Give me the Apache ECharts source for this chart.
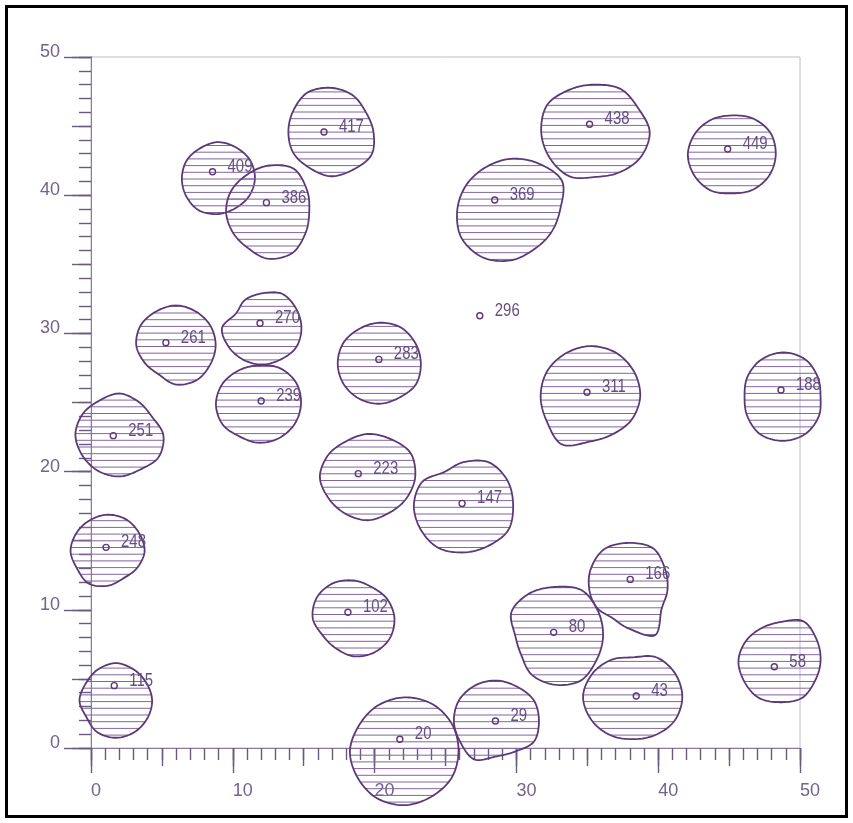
<!DOCTYPE html>
<html><head><meta charset="utf-8">
<script src="https://cdn.jsdelivr.net/npm/echarts@6/dist/echarts.min.js"></script>
<style>html,body{margin:0;padding:0;background:#fff}#c{width:853px;height:823px}</style>
</head><body><div id="c"></div>
<script>
// ---- point data ----
const pointLabels = ['409','386','417','261','270','239','283','251','248','115','223','102','20',
                     '438','449','369','296','311','188','147','166','80','43','29','58'];
const pointX = [8.57,12.37,16.43,5.28,11.92,12.0,20.3,1.57,1.06,1.64,18.85,18.12,21.78,
                35.16,44.9,28.47,27.42,34.98,48.66,26.17,38.03,32.63,38.45,28.52,48.19];
const pointY = [41.70,39.46,44.57,29.33,30.73,25.11,28.12,22.6,14.52,4.51,19.85,9.82,0.63,
                45.13,43.34,39.65,31.28,25.74,25.9,17.7,12.2,8.37,3.76,1.95,5.88];

// ---- blob (hatched region) data: centre + radii at 12 angles (0°=east, counter-clockwise, 30° steps) ----
const blobCenterX = [8.96,12.46,16.92,35.6,45.19,29.58,5.99,12.04,11.81,20.33,35.21,48.77,
                     2.0,1.18,19.5,26.27,37.9,18.52,32.68,48.59,1.75,38.2,28.63,22.09];
const blobCenterY = [41.24,38.77,44.57,44.57,42.95,38.93,29.16,30.39,24.89,27.84,25.43,25.42,
                     22.65,14.24,19.6,17.58,11.41,9.38,8.08,6.31,3.44,3.71,1.95,-0.24];
const blobRadii = [
  [2.6,2.6,2.55,2.6,2.5,2.55,2.55,2.6,2.7,2.6,2.5,2.55],        // 409
  [2.93,3.2,3.64,3.36,3.07,3.0,2.93,2.86,2.93,3.36,3.43,3.07],  // 386
  [3.0,2.85,3.07,3.2,3.3,3.07,3.0,3.05,3.0,3.2,3.14,3.3],       // 417
  [3.8,3.45,3.57,3.43,3.57,3.95,3.85,3.75,3.7,3.25,3.36,3.65],  // 438
  [3.1,3.14,3.0,2.82,2.9,3.0,3.1,3.05,3.0,2.82,2.95,3.05],      // 449
  [3.5,4.2,3.9,3.7,3.55,3.6,3.75,4.0,3.95,3.65,3.3,3.3],        // 369
  [2.8,2.8,2.8,2.86,2.8,2.86,2.8,2.55,2.45,2.86,2.93,2.8],      // 261
  [2.8,2.8,2.86,2.5,2.35,2.1,2.8,2.7,2.64,2.64,2.64,2.8],       // 270
  [3.0,3.07,3.0,2.8,2.8,2.93,3.0,2.93,2.7,2.8,2.86,2.93],       // 239
  [2.93,2.93,3.0,2.93,2.86,2.93,2.93,2.93,2.93,2.93,2.86,3.0],  // 283
  [3.52,3.57,3.65,3.65,3.57,3.55,3.5,3.55,4.0,3.25,3.15,3.36],  // 311
  [2.68,2.86,3.14,3.2,3.07,2.86,2.68,2.86,3.14,3.2,3.14,2.93],  // 188
  [3.1,2.65,2.75,3.0,2.86,3.0,3.1,3.0,3.0,3.0,2.9,3.2],         // 251
  [2.6,2.57,2.64,2.64,2.57,2.57,2.62,2.5,2.7,2.5,2.25,2.4],     // 248
  [3.36,3.5,3.2,3.12,3.0,3.2,3.36,3.14,3.07,3.12,3.0,3.14],     // 223
  [3.5,3.57,3.57,3.1,2.75,3.36,3.5,3.5,3.57,3.43,3.43,3.64],    // 147
  [2.75,3.0,3.5,3.43,3.43,3.07,2.75,2.55,2.3,2.75,3.75,2.7],    // 166
  [2.88,2.75,2.6,2.74,2.93,3.0,2.88,2.5,2.5,2.74,2.86,2.93],    // 102
  [3.43,3.57,3.85,3.57,3.57,3.5,2.75,2.7,3.2,3.5,3.7,3.43],     // 80
  [2.86,3.0,3.3,2.8,2.7,2.8,2.93,2.93,3.07,3.0,3.1,2.86],       // 58
  [2.56,2.5,2.57,2.7,2.57,2.45,2.56,2.4,2.64,2.7,2.64,2.57],    // 115
  [3.5,3.43,3.3,2.85,3.07,3.3,3.5,3.36,3.2,3.07,3.2,3.43],      // 43
  [2.96,3.0,2.86,2.93,3.0,3.07,3.04,3.0,3.2,2.55,2.55,3.0],     // 29
  [3.83,3.9,3.95,3.9,3.8,3.7,3.83,3.8,3.9,3.9,3.8,3.85]         // 20
];

// ---- styles ----
const OUTLINE = '#5a3a76';
const HATCH = '#8365a0';
const TEXT = '#654f80';
const AXIS_TEXT = '#72648a';
const TICK = '#6a5a80';
const HATCH_STEP = 6.7;

function renderBlob(params, api) {
  const i = params.dataIndex;
  const cx = api.value(0), cy = api.value(1);
  const r = blobRadii[i];
  const n = r.length;
  const ctrl = [];
  for (let k = 0; k < n; k++) {
    const a = 2 * Math.PI * k / n;
    ctrl.push(api.coord([cx + r[k] * Math.cos(a), cy + r[k] * Math.sin(a)]));
  }
  const pts = [];
  const seg = 12;
  for (let k = 0; k < n; k++) {
    const p0 = ctrl[(k - 1 + n) % n], p1 = ctrl[k], p2 = ctrl[(k + 1) % n], p3 = ctrl[(k + 2) % n];
    for (let s = 0; s < seg; s++) {
      const t = s / seg, t2 = t * t, t3 = t2 * t;
      const f = (a0, a1, a2, a3) => 0.5 * (2 * a1 + (-a0 + a2) * t + (2 * a0 - 5 * a1 + 4 * a2 - a3) * t2 + (-a0 + 3 * a1 - 3 * a2 + a3) * t3);
      pts.push([f(p0[0], p1[0], p2[0], p3[0]), f(p0[1], p1[1], p2[1], p3[1])]);
    }
  }
  let ymin = Infinity, ymax = -Infinity;
  pts.forEach(p => { ymin = Math.min(ymin, p[1]); ymax = Math.max(ymax, p[1]); });
  const base = api.coord([0, 0])[1] + 0.5;
  const children = [];
  let k0 = Math.ceil((ymin - base) / HATCH_STEP);
  for (let k = k0; base + k * HATCH_STEP < ymax; k++) {
    const y = base + k * HATCH_STEP;
    const xs = [];
    for (let j = 0; j < pts.length; j++) {
      const a = pts[j], b = pts[(j + 1) % pts.length];
      if ((a[1] <= y && b[1] > y) || (b[1] <= y && a[1] > y)) {
        xs.push(a[0] + (y - a[1]) * (b[0] - a[0]) / (b[1] - a[1]));
      }
    }
    xs.sort((p, q) => p - q);
    for (let j = 0; j + 1 < xs.length; j += 2) {
      children.push({ type: 'line', shape: { x1: xs[j], y1: y, x2: xs[j + 1], y2: y },
        style: { stroke: HATCH, lineWidth: 1 } });
    }
  }
  children.push({ type: 'polygon', shape: { points: pts },
    style: { fill: 'none', stroke: OUTLINE, lineWidth: 1.8 } });
  return { type: 'group', children };
}

function renderPoint(params, api) {
  const p = api.coord([api.value(0), api.value(1)]);
  return {
    type: 'group',
    children: [
      { type: 'circle', shape: { cx: p[0], cy: p[1], r: 3 },
        style: { fill: 'none', stroke: OUTLINE, lineWidth: 1.4 } },
      { type: 'text', x: p[0] + 15, y: p[1] - 5, scaleX: 0.83, scaleY: 1,
        style: { text: pointLabels[params.dataIndex], fill: TEXT,
          font: '18px "Liberation Sans", Arial, sans-serif', align: 'left', verticalAlign: 'middle' } }
    ]
  };
}

const baseAxis = {
  type: 'value', min: 0, max: 50, offset: 0,
  axisLine: { show: true, onZero: false, lineStyle: { color: '#8a7b9a', width: 1 } },
  splitLine: { show: false },
  axisLabel: { show: false }
};
const tickStyle = { color: TICK, width: 1.4 };
const xb = Object.assign({}, baseAxis, { position: 'bottom' });
const yb = Object.assign({}, baseAxis, { position: 'left' });

const chart = echarts.init(document.getElementById('c'), null, { renderer: 'canvas' });
chart.setOption({
  backgroundColor: '#ffffff',
  animation: false,
  grid: { left: 91, right: 53, top: 57, bottom: 75, show: true, borderColor: '#c4b8d0', borderWidth: 1 },
  xAxis: [
    Object.assign({}, xb, { interval: 1, axisTick: { length: 12, lineStyle: tickStyle } }),
    Object.assign({}, xb, { interval: 5, axisTick: { length: 18, lineStyle: tickStyle } }),
    Object.assign({}, xb, { interval: 10, axisTick: { length: 25, lineStyle: tickStyle },
      axisLabel: { show: true, margin: 34, align: 'left', fontSize: 18, color: AXIS_TEXT,
        fontFamily: '"Liberation Sans", Arial, sans-serif' } })
  ],
  yAxis: [
    Object.assign({}, yb, { interval: 1, axisTick: { length: 12, lineStyle: tickStyle } }),
    Object.assign({}, yb, { interval: 5, axisTick: { length: 19, lineStyle: tickStyle } }),
    Object.assign({}, yb, { interval: 10, axisTick: { length: 27, lineStyle: tickStyle },
      axisLabel: { show: true, margin: 31, fontSize: 18, color: AXIS_TEXT,
        verticalAlign: 'bottom', lineHeight: 10,
        fontFamily: '"Liberation Sans", Arial, sans-serif' } })
  ],
  graphic: [{
    type: 'rect', shape: { x: 6.5, y: 6.5, width: 840, height: 810 },
    style: { fill: 'none', stroke: '#000', lineWidth: 3 }, z: 100
  }],
  series: [
    {
      type: 'custom', xAxisIndex: 2, yAxisIndex: 2, clip: false, z: 3,
      renderItem: renderBlob,
      encode: { x: 0, y: 1 },
      data: blobCenterX.map((x, i) => [x, blobCenterY[i]])
    },
    {
      type: 'custom', xAxisIndex: 2, yAxisIndex: 2, clip: false, z: 5,
      renderItem: renderPoint,
      encode: { x: 0, y: 1 },
      data: pointX.map((x, i) => [x, pointY[i]])
    }
  ]
});
</script></body></html>
